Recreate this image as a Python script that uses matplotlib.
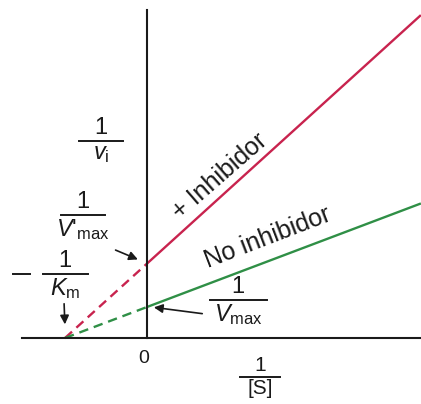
import numpy as np
from matplotlib import pyplot as plt
from matplotlib.lines import Line2D

# Lineweaver-Burk values (arbitrary units)
inv_km = 1.0          # x-intercept at -1/Km
inv_vmax = 1.0        # 1/Vmax, no inhibitor
inv_vmax_inh = 2.4    # 1/V'max, + inhibitor
s_max = 3.34          # right end of 1/[S]
y_top = 10.58

RED = '#c8234e'
GREEN = '#2f8f46'
INK = '#1a1a1a'

plt.rcParams['font.family'] = ['Liberation Sans', 'DejaVu Sans']
plt.rcParams['mathtext.fontset'] = 'custom'
plt.rcParams['mathtext.rm'] = 'Liberation Sans'
plt.rcParams['mathtext.it'] = 'Liberation Sans:italic'

W, H = 421, 404
fig = plt.figure(figsize=(W / 100, H / 100), dpi=100)
ax = fig.add_axes([0, 0, 1, 1])
ax.set_xlim(-147 / 82, 274 / 82)
ax.set_ylim(-66 / 31, 338 / 31)


def px(x, y):
    return (x / W, 1 - y / H)


def line(v_inv, color):
    xs = np.array([0, s_max])
    ax.plot(xs, v_inv * (xs + inv_km) / inv_km, color=color, lw=1.7, solid_capstyle='butt')
    xd = np.array([-inv_km, 0])
    ax.plot(xd, v_inv * (xd + inv_km) / inv_km, color=color, lw=1.7,
            dashes=(4, 2.5))


line(inv_vmax_inh, RED)
line(inv_vmax, GREEN)

for side in ['top', 'right']:
    ax.spines[side].set_visible(False)
ax.spines['left'].set_position(('data', 0))
ax.spines['bottom'].set_position(('data', 0))
ax.spines['left'].set_bounds(0, y_top)
ax.spines['bottom'].set_bounds(-1.52, s_max)
for side in ['left', 'bottom']:
    ax.spines[side].set_linewidth(1.5)
    ax.spines[side].set_color(INK)
ax.set_xticks([])
ax.set_yticks([])
ax.patch.set_alpha(0)


def hbar(x0, x1, y):
    a, b = px(x0, y)
    c, _ = px(x1, y)
    ax.add_line(Line2D([a, c], [b, b], transform=ax.transAxes, color=INK, lw=1.4))


def frac(xc, yb, w, num, den, size=17):
    ax.text(*px(xc, yb - 2), num, transform=ax.transAxes, ha='center', va='bottom',
            fontsize=size, color=INK)
    hbar(xc - w / 2, xc + w / 2, yb)
    ax.text(*px(xc, yb + 2), den, transform=ax.transAxes, ha='center', va='top',
            fontsize=size, color=INK)


frac(101, 141, 44, '1', r'$v_{\mathrm{i}}$')
frac(83, 215, 43, '1', r"$V$'$_{\mathrm{max}}$")
frac(65, 274, 45, '1', r'$K_{\mathrm{m}}$')
hbar(13, 30, 274)
frac(238, 300, 57, '1', r'$V_{\mathrm{max}}$')
frac(260, 377, 40, '1', '[S]', size=15)
ax.text(*px(144, 350), '0', transform=ax.transAxes, ha='center', va='top',
        fontsize=14, color=INK)

ax.text(*px(220, 176), '+ Inhibidor', transform=ax.transAxes, ha='center', va='center',
        rotation=41, fontsize=18, color=INK, rotation_mode='anchor')
ax.text(*px(268, 238), 'No inhibidor', transform=ax.transAxes, ha='center', va='center',
        rotation=21, fontsize=18, color=INK, rotation_mode='anchor')

arrow = dict(arrowstyle='-|>', color=INK, lw=1.2, mutation_scale=13)
ax.annotate('', xy=(-inv_km, 0.35), xytext=px(64, 301), textcoords='axes fraction',
            arrowprops=arrow)
ax.annotate('', xy=(-0.08, inv_vmax_inh + 0.1), xytext=px(113, 249),
            textcoords='axes fraction', arrowprops=arrow)
ax.annotate('', xy=(0.05, inv_vmax), xytext=px(205, 314), textcoords='axes fraction',
            arrowprops=arrow)

fig.savefig('out.png', dpi=100)
